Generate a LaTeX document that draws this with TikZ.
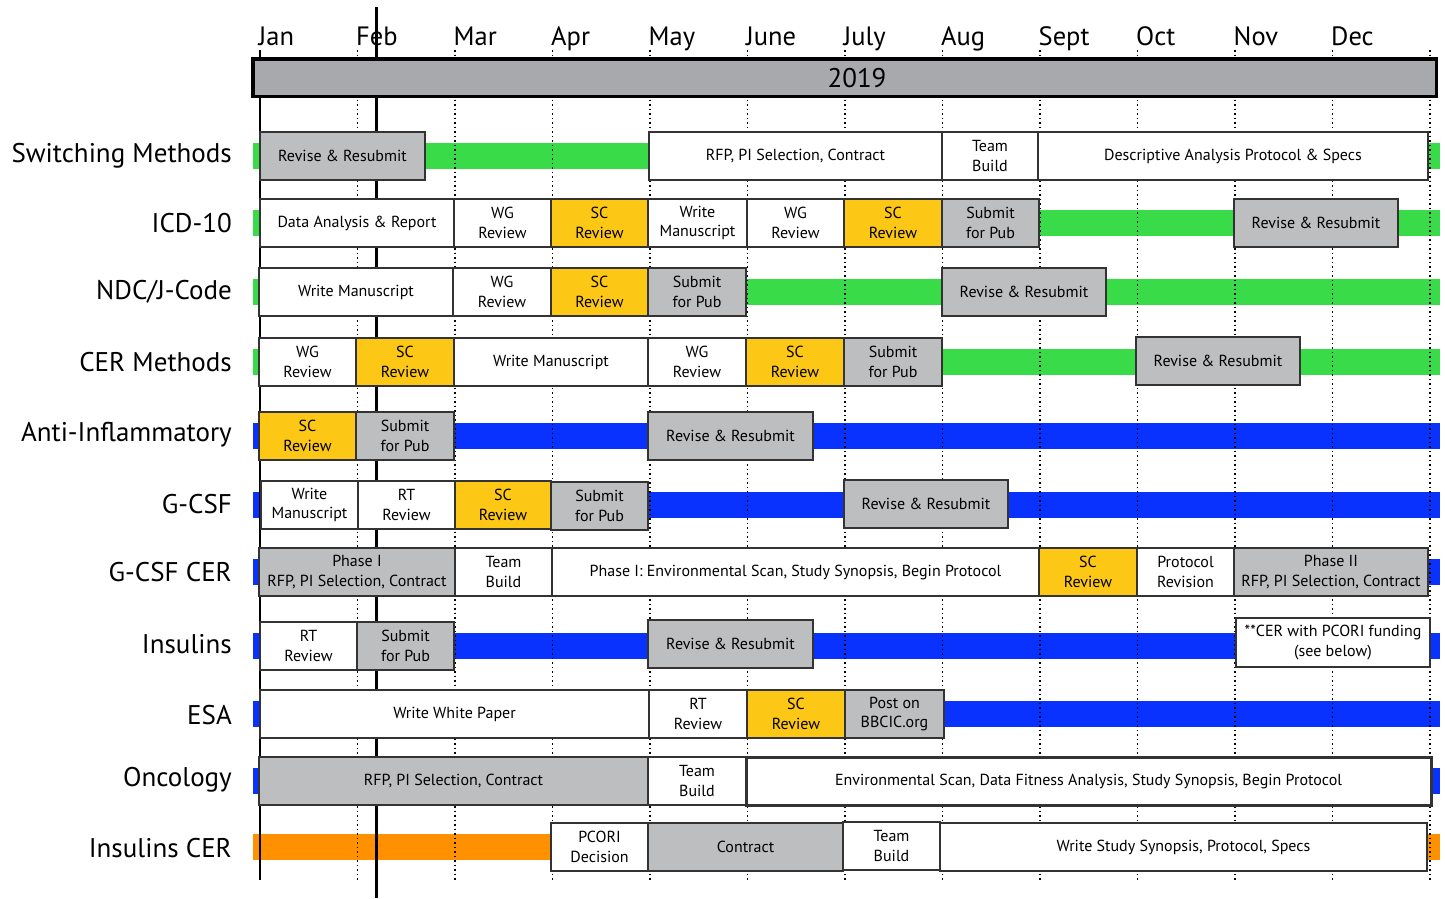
\documentclass[tikz,border=0pt]{standalone}
\usepackage{fontspec}
\setmainfont{PT Sans}
\usetikzlibrary{positioning}

\definecolor{taskgrey}{HTML}{BCBEC0}
\definecolor{headgrey}{HTML}{A7A9AC}
\definecolor{scyellow}{HTML}{FDC716}
\definecolor{bandgreen}{HTML}{39DB48}
\definecolor{bandblue}{HTML}{0A32FF}
\definecolor{bandorange}{HTML}{FF9100}

\tikzset{
  task/.style={rectangle, draw=black!80, line width=1.3pt, minimum height=48pt,
    inner sep=0pt, outer sep=0pt, align=center, font=\fontsize{16}{19.5}\selectfont},
  white task/.style={task, fill=white},
  grey task/.style={task, fill=taskgrey},
  sc task/.style={task, fill=scyellow},
  rowlabel/.style={anchor=east, inner sep=0pt, font=\fontsize{27}{30}\selectfont},
  monthlabel/.style={anchor=base west, inner sep=0pt, font=\fontsize{26.5}{30}\selectfont},
  monthline/.style={line width=1.5pt, dash pattern=on 1.5pt off 3pt}
}

\begin{document}
\begin{tikzpicture}[x=1pt, y=-1pt]
  \useasboundingbox (0,0) rectangle (1445,898);
  % Bands
  \foreach \yc in {156,223,292,362}
    \fill[bandgreen] (253,\yc-13) rectangle (1440,\yc+13);
  \foreach \yc in {436,505,572,646,714,781}
    \fill[bandblue] (253,\yc-13) rectangle (1440,\yc+13);
  \fill[bandorange] (253,834) rectangle (1440,860);
  % Month grid
  \draw[line width=1.3pt] (260,50) -- (260,880);
  \foreach \m in {1,...,12}
    \draw[monthline] ({260+97.5*\m},50) -- ({260+97.5*\m},880);
  \foreach \mon [count=\i from 0] in {Jan,Feb,Mar,Apr,May,June,July,Aug,Sept,Oct,Nov,Dec}
    \node (month-\i) [monthlabel] at ({258.5+97.5*\i},45) {\mon};
  % Today line
  \coordinate (today-top) at (376,7);
  \coordinate (today-bot) at (376,898);
  \draw[line width=3pt] (today-top) -- (today-bot);
  % Header
  \node (year) [rectangle, draw, line width=3.5pt, fill=headgrey, minimum width=1183.5pt, minimum height=37.5pt] at (844.5,77.5) {};
  \node (year-text) [font=\fontsize{27}{30}\selectfont] at (857,78.5) {2019};
  % Row labels
  \node (lab-sm) [rowlabel] at (232,156) {Switching Methods};
  \node (lab-icd) [rowlabel] at (232,223) {ICD-10};
  \node (lab-ndc) [rowlabel] at (232,292) {NDC/J-Code};
  \node (lab-cer) [rowlabel] at (232,362) {CER Methods};
  \node (lab-anti) [rowlabel] at (232,435) {Anti-Inflammatory};
  \node (lab-gcsf) [rowlabel] at (232,504) {G-CSF};
  \node (lab-gcer) [rowlabel] at (232,572) {G-CSF CER};
  \node (lab-ins) [rowlabel] at (232,644) {Insulins};
  \node (lab-esa) [rowlabel] at (232,715) {ESA};
  \node (lab-onc) [rowlabel] at (232,780) {Oncology};
  \node (lab-icer) [rowlabel] at (232,848) {Insulins CER};
  % Switching Methods
  \node (sm-rr) [grey task, minimum width=165pt] at (342.5,156) {Revise \& Resubmit};
  \node (sm-rfp) [white task, minimum width=293pt] at (795.5,156) {RFP, PI Selection, Contract};
  \node (sm-team) [white task, minimum width=96pt] at (990,156) {Team\\Build};
  \node (sm-desc) [white task, minimum width=390pt] at (1233,156) {Descriptive Analysis Protocol \& Specs};
  % ICD-10
  \node (icd-data) [white task, minimum width=194pt] at (357,223) {Data Analysis \& Report};
  \node (icd-wg1) [white task, minimum width=97pt] at (502.5,223) {WG\\Review};
  \node (icd-sc1) [sc task, minimum width=97pt] at (599.5,223) {SC\\Review};
  \node (icd-write) [white task, minimum width=99pt] at (697.5,223) {Write\\Manuscript};
  \node (icd-wg2) [white task, minimum width=97pt] at (795.5,223) {WG\\Review};
  \node (icd-sc2) [sc task, minimum width=98pt] at (893,223) {SC\\Review};
  \node (icd-sub) [grey task, minimum width=97pt] at (990.5,223) {Submit\\for Pub};
  \node (icd-rr) [grey task, minimum width=164pt] at (1316,223) {Revise \& Resubmit};
  % NDC/J-Code
  \node (ndc-write) [white task, minimum width=194pt] at (356,292) {Write Manuscript};
  \node (ndc-wg) [white task, minimum width=98pt] at (502,292) {WG\\Review};
  \node (ndc-sc) [sc task, minimum width=97pt] at (599.5,292) {SC\\Review};
  \node (ndc-sub) [grey task, minimum width=98pt] at (697,292) {Submit\\for Pub};
  \node (ndc-rr) [grey task, minimum width=164pt] at (1024,292) {Revise \& Resubmit};
  % CER Methods
  \node (cer-wg1) [white task, minimum width=97pt] at (307.5,362) {WG\\Review};
  \node (cer-sc1) [sc task, minimum width=98pt] at (405,362) {SC\\Review};
  \node (cer-write) [white task, minimum width=194pt] at (551,362) {Write Manuscript};
  \node (cer-wg2) [white task, minimum width=98pt] at (697,362) {WG\\Review};
  \node (cer-sc2) [sc task, minimum width=98pt] at (795,362) {SC\\Review};
  \node (cer-sub) [grey task, minimum width=98pt] at (893,362) {Submit\\for Pub};
  \node (cer-rr) [grey task, minimum width=164pt] at (1218,361) {Revise \& Resubmit};
  % Anti-Inflammatory
  \node (anti-sc) [sc task, minimum width=97pt] at (307.5,436) {SC\\Review};
  \node (anti-sub) [grey task, minimum width=98pt] at (405,436) {Submit\\for Pub};
  \node (anti-rr) [grey task, minimum width=165pt] at (730.5,436) {Revise \& Resubmit};
  % G-CSF
  \node (gcsf-write) [white task, minimum width=97pt] at (309.5,505) {Write\\Manuscript};
  \node (gcsf-rt) [white task, minimum width=97pt] at (406.5,505) {RT\\Review};
  \node (gcsf-sc) [sc task, minimum width=96pt] at (503,505) {SC\\Review};
  \node (gcsf-sub) [grey task, minimum width=97pt] at (599.5,506) {Submit\\for Pub};
  \node (gcsf-rr) [grey task, minimum width=164pt] at (926,504) {Revise \& Resubmit};
  % G-CSF CER
  \node (gcer-p1) [grey task, minimum width=196pt] at (357,572) {Phase I\\RFP, PI Selection, Contract};
  \node (gcer-team) [white task, minimum width=97pt] at (503.5,572) {Team\\Build};
  \node (gcer-scan) [white task, minimum width=487pt] at (795.5,572) {Phase I: Environmental Scan, Study Synopsis, Begin Protocol};
  \node (gcer-sc) [sc task, minimum width=98pt] at (1088,572) {SC\\Review};
  \node (gcer-prot) [white task, minimum width=97pt] at (1185.5,572) {Protocol\\Revision};
  \node (gcer-p2) [grey task, minimum width=194pt] at (1331,572) {Phase II\\RFP, PI Selection, Contract};
  % Insulins
  \node (ins-rt) [white task, minimum width=97pt] at (308.5,646) {RT\\Review};
  \node (ins-sub) [grey task, minimum width=97pt] at (405.5,646) {Submit\\for Pub};
  \node (ins-rr) [grey task, minimum width=165pt] at (730.5,644) {Revise \& Resubmit};
  \node (ins-note) [white task, minimum width=194pt, minimum height=49pt] at (1333,642.5) {**CER with PCORI funding\\(see below)};
  % ESA
  \node (esa-write) [white task, minimum width=389pt] at (454.5,714) {Write White Paper};
  \node (esa-rt) [white task, minimum width=98pt] at (698,714) {RT\\Review};
  \node (esa-sc) [sc task, minimum width=98pt] at (796,714) {SC\\Review};
  \node (esa-post) [grey task, minimum width=99pt] at (894.5,714) {Post on\\BBCIC.org};
  % Oncology
  \node (onc-rfp) [grey task, minimum width=389pt] at (453.5,781) {RFP, PI Selection, Contract};
  \node (onc-team) [white task, minimum width=98pt] at (697,781) {Team\\Build};
  \node (onc-scan) [white task, line width=3pt, minimum width=685pt] at (1088.5,781) {Environmental Scan, Data Fitness Analysis, Study Synopsis, Begin Protocol};
  % Insulins CER
  \node (icer-pcori) [white task, minimum width=97pt] at (599.5,847) {PCORI\\Decision};
  \node (icer-con) [grey task, minimum width=195pt] at (745.5,847) {Contract};
  \node (icer-team) [white task, minimum width=97pt] at (891.5,846) {Team\\Build};
  \node (icer-write) [white task, minimum width=487pt] at (1183.5,847) {Write Study Synopsis, Protocol, Specs};
\end{tikzpicture}
\end{document}
